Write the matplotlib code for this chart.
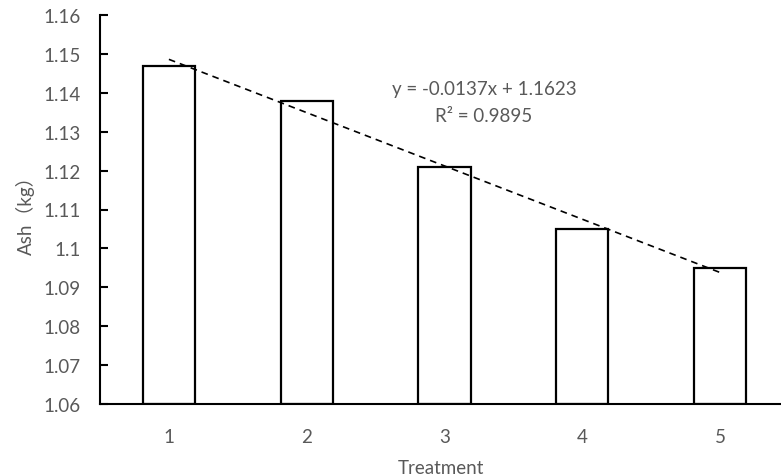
import matplotlib
matplotlib.use("Agg")
import matplotlib.pyplot as plt
import numpy as np

categories = [1, 2, 3, 4, 5]
values = [1.147, 1.138, 1.121, 1.105, 1.095]
slope = -0.0137
intercept = 1.1623
eq_text = "y = -0.0137x + 1.1623"
r2_text = "R² = 0.9895"
yticks = [1.06, 1.07, 1.08, 1.09, 1.10, 1.11, 1.12, 1.13, 1.14, 1.15, 1.16]
ytick_labels = ["1.06", "1.07", "1.08", "1.09", "1.1", "1.11", "1.12", "1.13", "1.14", "1.15", "1.16"]

plt.rcParams['font.family'] = ['Lato', 'Noto Sans CJK SC', 'DejaVu Sans']
gray = "#595959"
fs = 13.5

fig = plt.figure(figsize=(7.81, 4.77), dpi=100)
W, H = 781, 477
left, right, top, bottom = 100, 781, 16, 405
ax = fig.add_axes([left / W, 1 - bottom / H, (right - left) / W, (bottom - top) / H])

ax.bar(categories, [v - 1.06 for v in values], bottom=1.06, width=0.378,
       facecolor="white", edgecolor="black", linewidth=1.6, zorder=2)

xs = np.array([categories[0], categories[-1]])
ax.plot(xs, slope * xs + intercept, linestyle=(0, (4, 3)), color="black", linewidth=1.2, zorder=3)

ax.set_ylim(1.06, 1.16)
ax.set_xlim(0.5, 5.5 - 8 / 137.75)
ax.set_yticks(yticks)
ax.set_yticklabels(ytick_labels)
ax.set_xticks(categories)
ax.set_xticklabels([str(c) for c in categories])

for s in ["top", "right"]:
    ax.spines[s].set_visible(False)
for s in ["left", "bottom"]:
    ax.spines[s].set_linewidth(1.5)
    ax.spines[s].set_color("black")

ax.tick_params(axis="y", direction="in", length=6, width=1.5, colors="black",
               labelcolor=gray, labelsize=fs, pad=14)
ax.tick_params(axis="x", length=0, labelcolor=gray, labelsize=fs, pad=17)

ax.set_xlabel("Treatment", color=gray, fontsize=fs, labelpad=10)
ax.set_ylabel("Ash（kg）", color=gray, fontsize=fs, labelpad=6)

fig.text(484 / W, 1 - 90 / H, eq_text, color=gray, fontsize=fs, ha="center", va="center")
fig.text(484 / W, 1 - 116 / H, r2_text, color=gray, fontsize=fs, ha="center", va="center")

fig.savefig("out.png", dpi=100)
